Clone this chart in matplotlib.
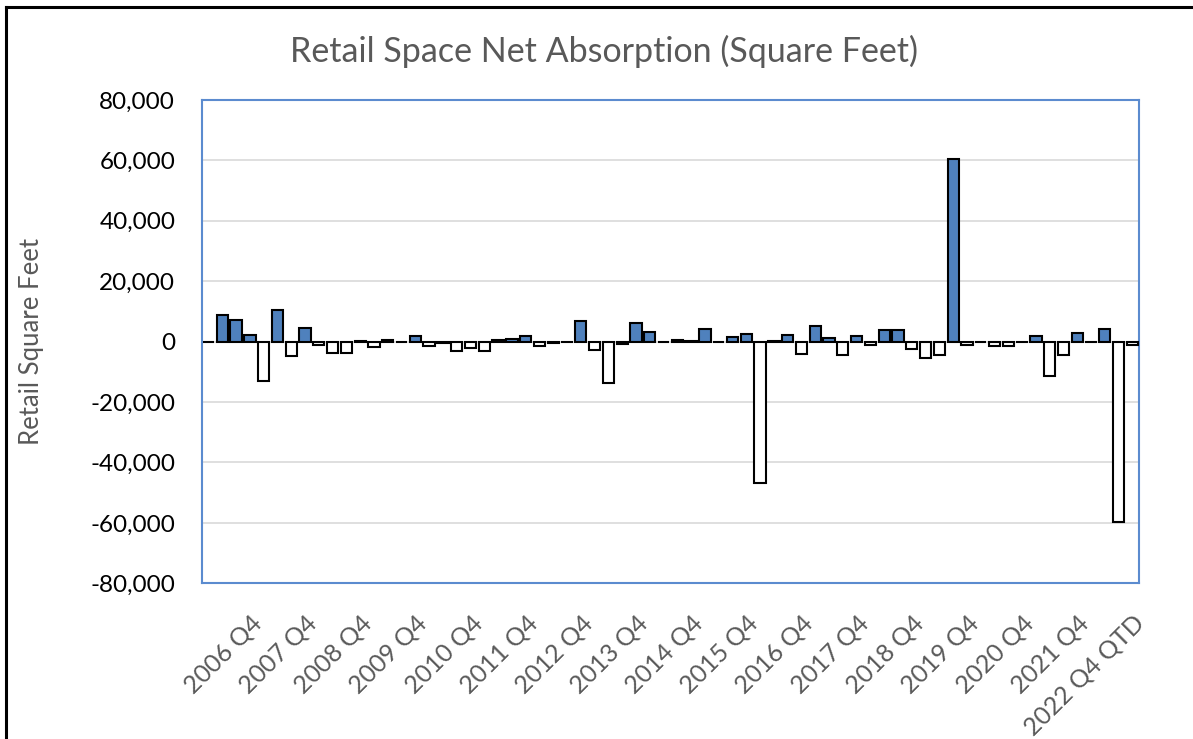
import matplotlib.pyplot as plt
import numpy as np
from matplotlib.lines import Line2D
from matplotlib.ticker import FuncFormatter

## Datos: absorción neta trimestral, 2006 Q1 a 2022 Q4 QTD
years = list(range(2006, 2023))
quarters = [f"{y} Q{q}" for y in years for q in range(1, 5)]
absorption = [
    0, 8900, 7000, 2300,            # 2006
    -13100, 10600, -4600, 4500,     # 2007
    -1100, -3900, -3900, 300,       # 2008
    -1800, 700, 0, 2000,            # 2009
    -1500, -300, -3200, -2000,      # 2010
    -3200, 400, 1000, 1800,         # 2011
    -1300, -300, 0, 6900,           # 2012
    -2900, -13800, -900, 6100,      # 2013
    3100, 0, 700, 300,              # 2014
    4100, 0, 1700, 2600,            # 2015
    -46900, 200, 2300, -4200,       # 2016
    5100, 1200, -4500, 2000,        # 2017
    -1200, 3700, 4000, -2600,       # 2018
    -5300, -4500, 60500, -1100,     # 2019
    0, -1500, -1500, 0,             # 2020
    1800, -11400, -4500, 3000,      # 2021
    0, 4200, -59800, -1200,         # 2022
]
tick_labels = [f"{y} Q4" for y in years]
tick_labels[-1] = "2022 Q4 QTD"

plt.rcParams['font.family'] = ['Lato', 'DejaVu Sans']

fig = plt.figure(figsize=(11.93, 7.39), dpi=100)
ax = fig.add_axes([0.169, 0.2107, 0.786, 0.654])

x = np.arange(len(quarters))
vals = np.array(absorption)
colores = ['#4F81BD' if v > 0 else 'white' for v in vals]
ax.bar(x, vals, width=0.82, color=colores, edgecolor='black', linewidth=1.5, zorder=3)

ax.set_xlim(-0.5, len(quarters) - 0.5)
ax.set_ylim(-80000, 80000)
ax.set_yticks(np.arange(-80000, 80001, 20000))
ax.yaxis.set_major_formatter(FuncFormatter(lambda v, p: f"{int(v):,}"))
ax.grid(axis='y', color='#D9D9D9', linewidth=1.2, zorder=0)
ax.tick_params(axis='both', length=0)
ax.tick_params(axis='y', labelsize=17.5, colors='black', pad=19)

ax.set_xticks(x[3::4])
ax.set_xticklabels(tick_labels, rotation=45, ha='right', rotation_mode='anchor',
                   fontsize=18, color='#595959')
ax.tick_params(axis='x', pad=20)

for s in ax.spines.values():
    s.set_color('#5B8BCF')
    s.set_linewidth(1.5)

ax.set_ylabel('Retail Square Feet', fontsize=18.5, color='#595959')
ax.yaxis.set_label_coords(-0.168, 0.5)
fig.text(0.506, 0.93, 'Retail Space Net Absorption (Square Feet)', ha='center', va='center',
         fontsize=24.5, color='#595959')

## Marco exterior (solo arriba e izquierda visibles)
fig.add_artist(Line2D([0.0049, 1.0], [0.991, 0.991], color='black', linewidth=2.2))
fig.add_artist(Line2D([0.0049, 0.0049], [0.0, 0.991], color='black', linewidth=2.2))

fig.savefig('out.png', dpi=100)
